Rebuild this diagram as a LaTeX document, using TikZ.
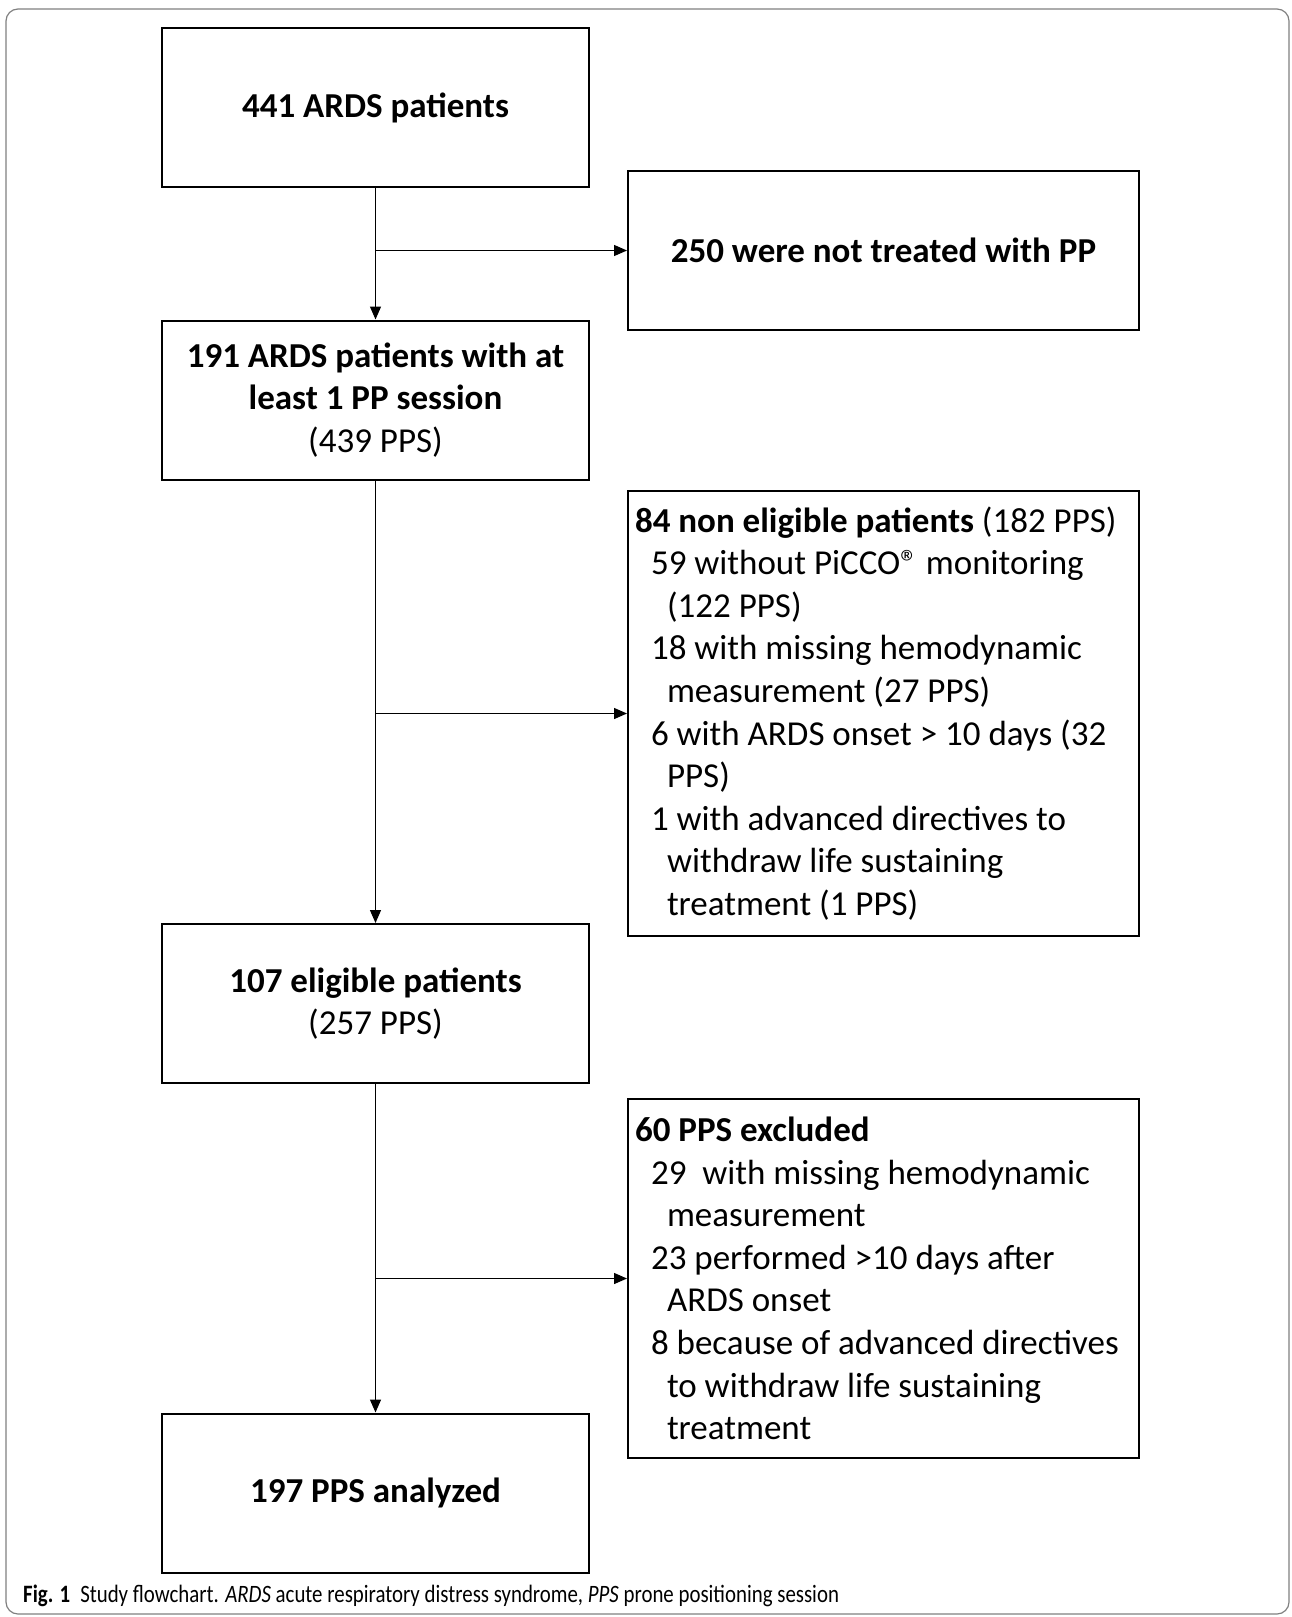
\documentclass[tikz,border=0pt]{standalone}
\usepackage{fontspec}
\setmainfont{Carlito}
\newfontfamily\capfont[FakeStretch=0.835]{Carlito}
\usetikzlibrary{arrows.meta}
\tikzset{
  mainbox/.style={draw,line width=2pt,minimum width=427pt,minimum height=159pt,
    inner sep=0pt,align=center,font=\fontsize{35}{42.6}\selectfont},
  sidebox/.style={draw,line width=2pt,minimum width=511pt,text width=497pt,
    inner sep=7pt,align=flush left,anchor=west,font=\fontsize{35}{42.6}\selectfont},
  link/.style={line width=1.3pt,-{Triangle[length=13pt,width=11pt]}}
}
\begin{document}
\begin{tikzpicture}[x=1pt,y=-1pt]
\useasboundingbox (0,0) rectangle (1292,1617);
\draw[gray,line width=1.2pt,rounded corners=12pt] (6,9) rectangle (1289,1614);
% left column
\node[mainbox] (pat) at (375.5,107.5) {\textbf{441 ARDS patients}};
\node[mainbox] (pp) at (375.5,400) {\textbf{191 ARDS patients with at}\\\textbf{least 1 PP session}\\(439 PPS)};
\node[mainbox] (eli) at (375.5,1003.5) {\textbf{107 eligible patients}\\(257 PPS)};
\node[mainbox] (ana) at (375.5,1493) {\textbf{197 PPS analyzed}};
% right column
\node[sidebox,minimum height=159pt,align=flush center] (notpp) at (627,250.5) {\textbf{250 were not treated with PP}};
\node[sidebox,minimum height=445pt] (noneli) at (627,713.5) {\textbf{84 non eligible patients} (182 PPS)\\
\hspace*{16pt}59 without PiCCO® monitoring\\
\hspace*{32pt}(122 PPS)\\
\hspace*{16pt}18 with missing hemodynamic\\
\hspace*{32pt}measurement (27 PPS)\\
\hspace*{16pt}6 with ARDS onset > 10 days (32\\
\hspace*{32pt}PPS)\\
\hspace*{16pt}1 with advanced directives to\\
\hspace*{32pt}withdraw life sustaining\\
\hspace*{32pt}treatment (1 PPS)};
\node[sidebox,minimum height=359pt] (excl) at (627,1278.5) {\textbf{60 PPS excluded}\\
\hspace*{16pt}29\ \ with missing hemodynamic\\
\hspace*{32pt}measurement\\
\hspace*{16pt}23 performed >10 days after\\
\hspace*{32pt}ARDS onset\\
\hspace*{16pt}8 because of advanced directives\\
\hspace*{32pt}to withdraw life sustaining\\
\hspace*{32pt}treatment};
% connectors
\draw[link] (pat) -- (pp);
\draw[link] (pp) -- (eli);
\draw[link] (eli) -- (ana);
\draw[link] (pat.south |- notpp.west) -- (notpp.west);
\draw[link] (pp.south |- noneli.west) -- (noneli.west);
\draw[link] (eli.south |- excl.west) -- (excl.west);
% caption
\node[anchor=west,inner sep=0pt,font=\capfont\fontsize{25}{29}\selectfont] (cap) at (23,1596)
  {\textbf{Fig. 1}\hspace{10pt}Study flowchart. \textit{ARDS} acute respiratory distress syndrome, \textit{PPS} prone positioning session};
\end{tikzpicture}
\end{document}
